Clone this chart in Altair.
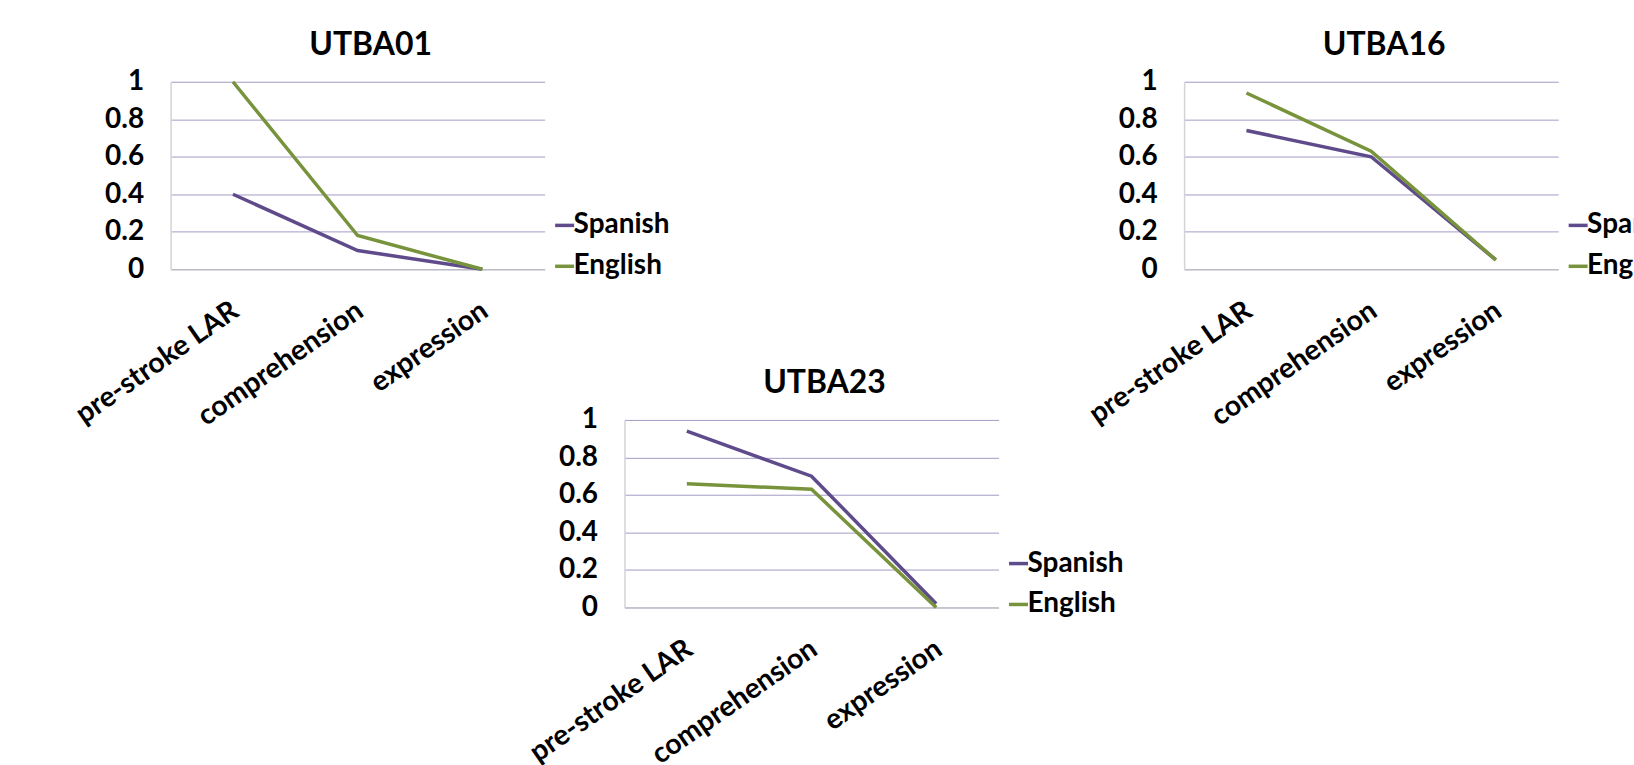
import altair as alt
import pandas as pd

categories = ["pre-stroke LAR", "comprehension", "expression"]
series_names = ["Spanish", "English"]
series_colors = ["#5F4B8B", "#77933C"]

utba01_spanish = [0.40, 0.10, 0.00]
utba01_english = [1.00, 0.18, 0.00]
utba16_spanish = [0.74, 0.60, 0.05]
utba16_english = [0.94, 0.63, 0.05]
utba23_spanish = [0.94, 0.70, 0.02]
utba23_english = [0.66, 0.63, 0.00]

y_ticks = [0, 0.2, 0.4, 0.6, 0.8, 1]

FONT = "Lato"
W, H = 375, 188


def make_df(sp, en):
    rows = []
    for name, vals in zip(series_names, [sp, en]):
        for c, v in zip(categories, vals):
            rows.append({"category": c, "series": name, "value": v, "order": series_names.index(name)})
    return pd.DataFrame(rows)


def panel(title, sp, en):
    df = make_df(sp, en)
    return (
        alt.Chart(df)
        .mark_line(strokeWidth=3.5)
        .encode(
            x=alt.X(
                "category:N",
                sort=categories,
                scale=alt.Scale(type="point", padding=0.5),
                axis=alt.Axis(
                    title=None,
                    labelAngle=-35,
                    labelAlign="right",
                    labelBaseline="middle",
                    labelFont=FONT,
                    labelFontWeight="bold",
                    labelFontSize=28.5,
                    labelColor="black",
                    labelPadding=38,
                    labelOffset=2,
                    labelLimit=500,
                    labelOverlap=False,
                    ticks=False,
                    grid=False,
                    domainColor="#BFBFBF",
                    domainWidth=1,
                ),
            ),
            y=alt.Y(
                "value:Q",
                scale=alt.Scale(domain=[0, 1], nice=False),
                axis=alt.Axis(
                    title=None,
                    values=y_ticks,
                    format="~g",
                    labelFont=FONT,
                    labelFontWeight="bold",
                    labelFontSize=28,
                    labelColor="black",
                    labelPadding=27,
                    ticks=False,
                    grid=True,
                    gridColor="#A39BC6",
                    gridWidth=1,
                    domainColor="#D4D4D4",
                    domainWidth=1.5,
                ),
            ),
            color=alt.Color(
                "series:N",
                sort=series_names,
                scale=alt.Scale(domain=series_names, range=series_colors),
                legend=alt.Legend(
                    title=None,
                    orient="none",
                    legendX=381,
                    legendY=130,
                    symbolType="stroke",
                    symbolSize=361,
                    symbolStrokeWidth=3.5,
                    labelFont=FONT,
                    labelFontWeight="bold",
                    labelFontSize=28,
                    labelColor="black",
                    labelOffset={"expr": "-5"},
                    rowPadding=13,
                    padding=0,
                ),
            ),
            order="order:Q",
        )
        .properties(
            width=W,
            height=H,
            title=alt.TitleParams(
                text=title,
                font=FONT,
                fontWeight="bold",
                fontSize=32,
                color="black",
                anchor="middle",
                baseline="alphabetic",
                offset=-19,
                dx=13,
            ),
        )
    )


p1 = panel("UTBA01", utba01_spanish, utba01_english)
p2 = panel("UTBA16", utba16_spanish, utba16_english)
p3 = panel("UTBA23", utba23_spanish, utba23_english)

spacer = (
    alt.Chart(pd.DataFrame({"s": [0]}))
    .mark_point(opacity=0)
    .encode(x=alt.value(0), y=alt.value(0))
    .properties(width=1, height=1)
)

row1 = alt.hconcat(p1, p2, spacing=641, bounds="flush").resolve_scale(color="independent")
row2 = alt.hconcat(spacer, p3, spacing=454, bounds="flush").resolve_scale(color="independent")

chart = (
    alt.vconcat(row1, row2, spacing=339, bounds="flush")
    .resolve_scale(color="independent")
    .properties(padding={"left": 70, "top": 28, "right": -50, "bottom": 1}, background="white")
    .configure_view(stroke=None)
)

chart.save("out.html", embed_options={"renderer": "svg", "actions": False})
